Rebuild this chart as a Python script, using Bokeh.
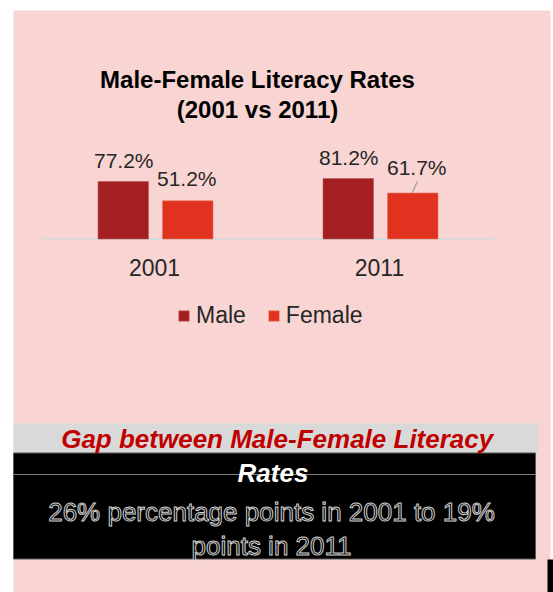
from bokeh.plotting import figure
from bokeh.models import Range1d, Legend, LegendItem, ColumnDataSource, Label
from bokeh.transform import dodge
from bokeh.core.properties import value
from bokeh.embed import file_html
from bokeh.resources import INLINE

# ---------------- data ----------------
years = ["2001", "2011"]
male = [77.2, 81.2]
female = [51.2, 61.7]
male_labels = ["77.2%", "81.2%"]
female_labels = ["51.2%", "61.7%"]
series_names = ["Male", "Female"]
chart_title = ["Male-Female Literacy Rates", "(2001 vs 2011)"]
gap_heading = ["Gap between Male-Female Literacy", "Rates"]
gap_text = ["26% percentage points in 2001 to 19%", "points in 2011"]

# ---------------- style / layout ----------------
W, H = 553, 592
FONT = "Liberation Sans"
MALE_C = "#A31F22"
FEMALE_C = "#E0321F"
PINK = "#F8D4D2"
TXT = "#262626"

PX_PER_GROUP = 225.0      # horizontal pixels per category
PX_PER_PCT = 0.745        # vertical pixels per percent
X0_PX = 155.0             # pixel x of first category centre
BASE_PX = 238.5           # pixel y of the baseline (from top)
OFF = 32.25 / PX_PER_GROUP
BAR_W = 50.5 / PX_PER_GROUP

female_label_dx = [-1, 4]
female_label_dy = [-22, -26]

idx = list(range(len(years)))
src = ColumnDataSource(dict(idx=idx, year=years, male=male, female=female,
                            ml=male_labels, fl=female_labels,
                            fdx=female_label_dx, fdy=female_label_dy))

p = figure(width=W, height=H,
           x_range=Range1d(-X0_PX / PX_PER_GROUP, (W - X0_PX) / PX_PER_GROUP),
           y_range=Range1d(-(H - BASE_PX) / PX_PER_PCT, BASE_PX / PX_PER_PCT),
           x_axis_type=None, y_axis_type=None,
           output_backend="svg", toolbar_location=None, min_border=0)
p.grid.visible = False
p.outline_line_color = None
p.background_fill_color = "white"
p.border_fill_color = "white"
p.extra_x_ranges = {"px": Range1d(0, W)}
p.extra_y_ranges = {"px": Range1d(H, 0)}

# pink panel
p.quad(left=13, right=550, top=10, bottom=H, x_range_name="px", y_range_name="px",
       fill_color=PINK, line_color=None)

# baseline
p.segment(x0=-0.5, x1=len(years) - 0.5, y0=0, y1=0, line_color="#D9D9D9", line_width=2)

# bars
rm = p.vbar(x=dodge("idx", -OFF), top="male", bottom=0, width=BAR_W, source=src,
            fill_color=MALE_C, line_color="#C0585A", line_width=0.6)
rf = p.vbar(x=dodge("idx", OFF), top="female", bottom=0, width=BAR_W, source=src,
            fill_color=FEMALE_C, line_color="#EC7060", line_width=0.6)

# leader line for 2011 female label
p.segment(x0=idx[1] + OFF - 0.5 / PX_PER_GROUP, y0=female[1],
          x1=idx[1] + OFF + 4.5 / PX_PER_GROUP, y1=female[1] + 11.6 / PX_PER_PCT,
          line_color="#A6A6A6", line_width=1.5)

# value labels
p.text(x=dodge("idx", -OFF), y="male", text="ml", source=src, y_offset=-21, x_offset=0.5,
       text_align="center", text_baseline="middle", text_font=value(FONT),
       text_font_size="21px", text_color=TXT)
p.text(x=dodge("idx", OFF), y="female", text="fl", source=src, y_offset="fdy", x_offset="fdx",
       text_align="center", text_baseline="middle", text_font=value(FONT),
       text_font_size="21px", text_color=TXT)

# category labels
p.text(x="idx", y=0, text="year", source=src, y_offset=28, x_offset=-1,
       text_align="center", text_baseline="middle", text_font=value(FONT),
       text_font_size="23px", text_color=TXT)

# legend
legend = Legend(items=[LegendItem(label=series_names[0], renderers=[rm]),
                       LegendItem(label=series_names[1], renderers=[rf])],
                orientation="horizontal", location=(177, 263),
                glyph_width=13, glyph_height=13, label_standoff=6, spacing=21,
                padding=0, margin=0, border_line_color=None, background_fill_alpha=0,
                label_text_font=FONT, label_text_font_size="23px", label_text_color=TXT)
p.add_layout(legend)

# title
for i, t in enumerate(chart_title):
    p.add_layout(Label(x=257, y=79 + 29.5 * i, x_range_name="px", y_range_name="px",
                       text=t, text_align="center", text_baseline="middle",
                       text_font=FONT, text_font_style="bold", text_font_size="24px",
                       text_color="black"))

# bottom callout box
p.quad(left=13, right=538, top=422.7, bottom=452.5, x_range_name="px", y_range_name="px",
       fill_color="#D9D9D9", line_color=None)
p.quad(left=13, right=535, top=452.5, bottom=558.5, x_range_name="px", y_range_name="px",
       fill_color="black", line_color="#595959", line_width=1)
p.segment(x0=13, x1=535, y0=474, y1=474, x_range_name="px", y_range_name="px",
          line_color="#7F7F7F", line_width=1)
p.quad(left=547, right=553, top=559, bottom=H, x_range_name="px", y_range_name="px",
       fill_color="black", line_color=None)

p.add_layout(Label(x=276.7, y=438, x_range_name="px", y_range_name="px",
                   text=gap_heading[0], text_align="center", text_baseline="middle",
                   text_font=FONT, text_font_style="bold italic", text_font_size="26px",
                   text_color="#C00000"))
p.add_layout(Label(x=272.5, y=472, x_range_name="px", y_range_name="px",
                   text=gap_heading[1], text_align="center", text_baseline="middle",
                   text_font=FONT, text_font_style="bold italic", text_font_size="26px",
                   text_color="white"))
for i, t in enumerate(gap_text):
    p.add_layout(Label(x=271, y=511.5 + 33.5 * i, x_range_name="px", y_range_name="px",
                       text=t, text_align="center", text_baseline="middle",
                       text_font=FONT, text_font_size="26px",
                       text_color="black", text_outline_color="#D0D0D0"))

open("out.html", "w").write(file_html(p, INLINE))
